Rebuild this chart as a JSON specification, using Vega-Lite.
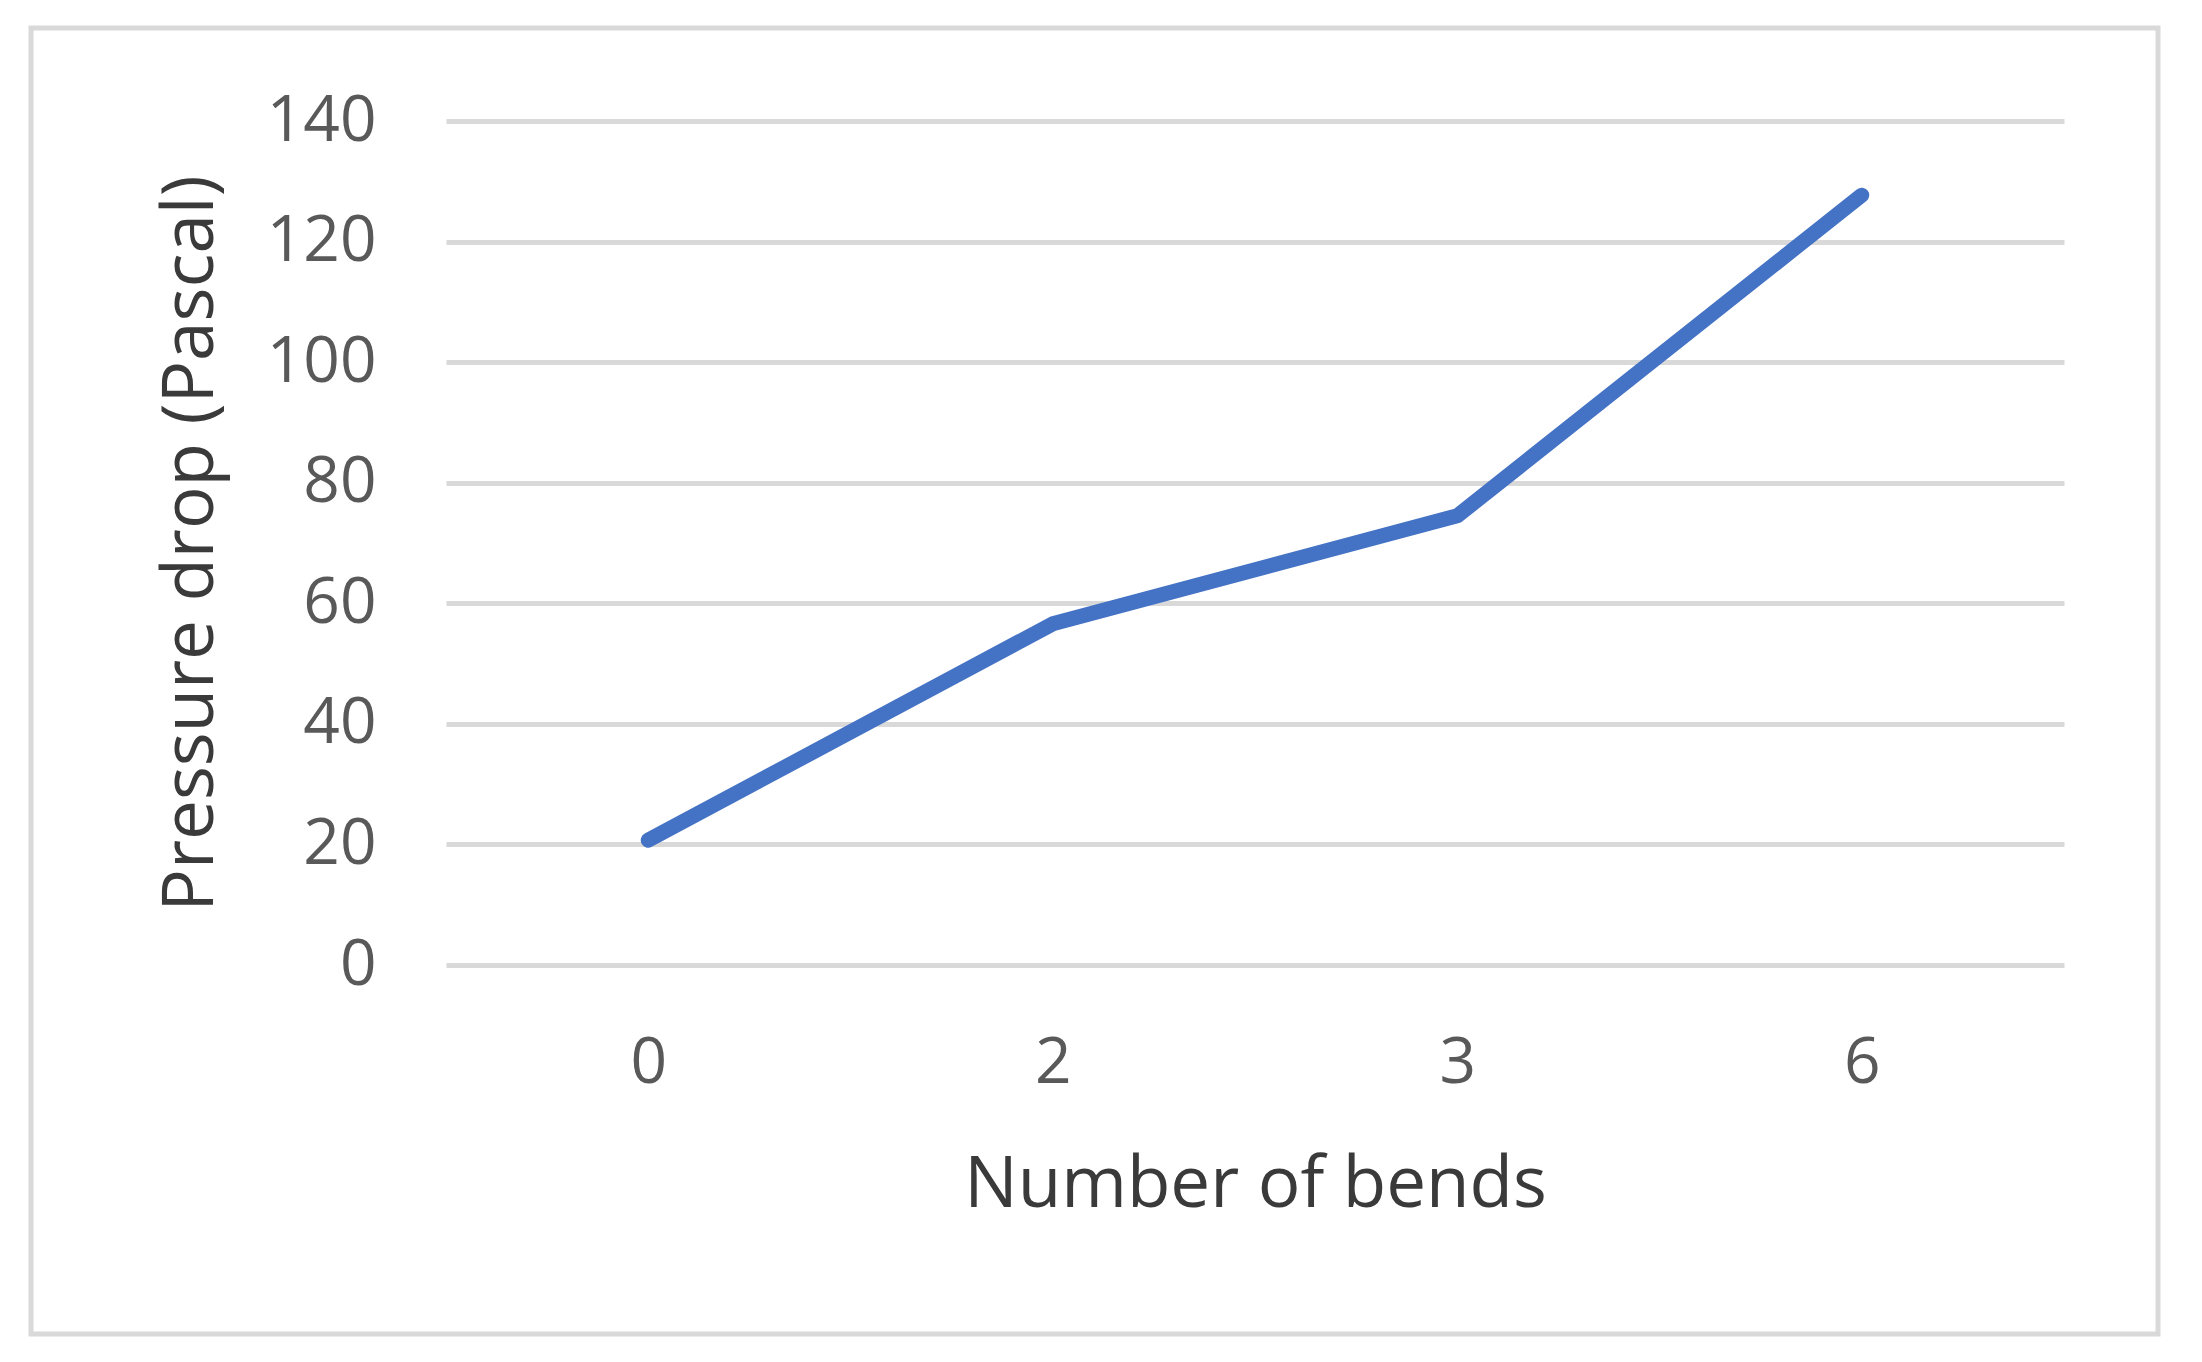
{
  "$schema": "https://vega.github.io/schema/vega-lite/v6.json",
  "autosize": {"type": "none"},
  "width": 2127,
  "height": 1306,
  "padding": {"left": 31, "top": 28, "right": 44, "bottom": 28},
  "background": "white",
  "config": {
    "view": {"stroke": "#d9d9d9", "strokeWidth": 5},
    "font": "Open Sans"
  },
  "data": {
    "values": [
      {"bends": "0", "pressure": 20.7},
      {"bends": "2", "pressure": 56.6},
      {"bends": "3", "pressure": 74.5},
      {"bends": "6", "pressure": 127.7}
    ]
  },
  "mark": {"type": "line", "color": "#4472C4", "strokeWidth": 15, "strokeCap": "round", "strokeJoin": "round"},
  "encoding": {
    "x": {
      "field": "bends",
      "type": "ordinal",
      "sort": ["0", "2", "3", "6"],
      "scale": {"type": "point", "range": [415, 2033], "padding": 0.5},
      "axis": {
        "orient": "bottom",
        "offset": -369,
        "domain": false,
        "ticks": false,
        "grid": false,
        "labelAngle": 0,
        "labelFontSize": 64,
        "labelColor": "#595959",
        "labelPadding": 66,
        "title": "Number of bends",
        "titleFontSize": 71,
        "titleFontWeight": "normal",
        "titleColor": "#3a3a3a",
        "titlePadding": 55
      }
    },
    "y": {
      "field": "pressure",
      "type": "quantitative",
      "scale": {"domain": [0, 140], "range": [937, 93], "nice": false},
      "axis": {
        "orient": "left",
        "offset": -415,
        "values": [0, 20, 40, 60, 80, 100, 120, 140],
        "domain": false,
        "ticks": false,
        "grid": true,
        "gridColor": "#d9d9d9",
        "gridWidth": 5,
        "labelFontSize": 64,
        "labelColor": "#595959",
        "labelPadding": 70,
        "title": "Pressure drop (Pascal)",
        "titleFontSize": 71,
        "titleFontWeight": "normal",
        "titleColor": "#3a3a3a",
        "titlePadding": 39
      }
    }
  }
}
